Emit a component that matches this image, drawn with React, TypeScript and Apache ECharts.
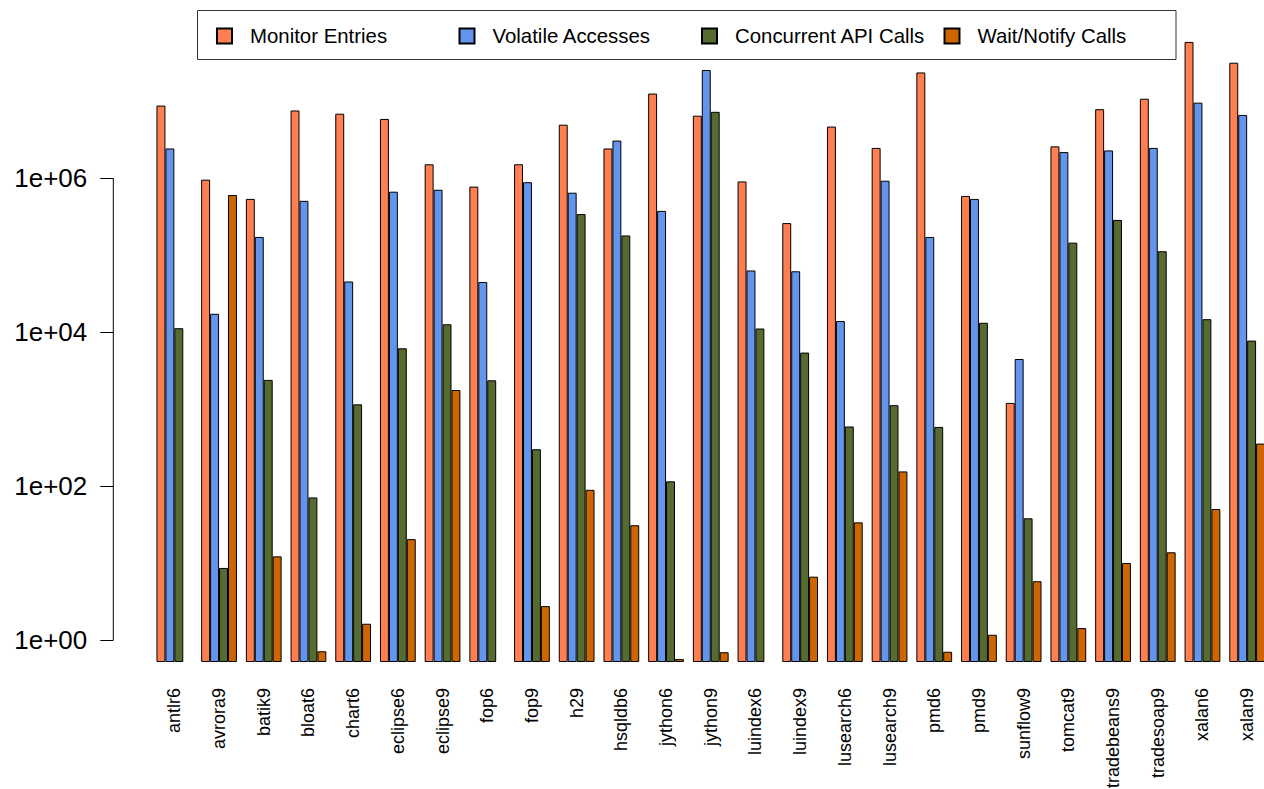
import React, { useEffect, useRef } from "react";
import * as echarts from "echarts";

// Benchmarks (DaCapo) and the synchronization counts measured for each
const benchmarks = [
  "antlr6", "avrora9", "batik9", "bloat6", "chart6", "eclipse6", "eclipse9",
  "fop6", "fop9", "h29", "hsqldb6", "jython6", "jython9", "luindex6",
  "luindex9", "lusearch6", "lusearch9", "pmd6", "pmd9", "sunflow9",
  "tomcat9", "tradebeans9", "tradesoap9", "xalan6", "xalan9",
];

const monitorEntries = [
  8.8e6, 9.6e5, 5.4e5, 7.6e6, 6.9e6, 5.9e6, 1.52e6, 7.8e5, 1.52e6, 4.97e6,
  2.44e6, 1.26e7, 6.5e6, 9.1e5, 2.62e5, 4.7e6, 2.48e6, 2.37e7, 5.9e5, 1.21e3,
  2.6e6, 7.9e6, 1.08e7, 5.9e7, 3.17e7,
];

const volatileAccesses = [
  2.44e6, 1.74e4, 1.73e5, 5.1e5, 4.57e4, 6.7e5, 7.1e5, 4.5e4, 8.9e5, 6.5e5,
  3.09e6, 3.77e5, 2.55e7, 6.35e4, 6.2e4, 1.4e4, 9.3e5, 1.73e5, 5.4e5, 4.5e3,
  2.19e6, 2.3e6, 2.48e6, 9.6e6, 6.65e6,
];

const concurrentApiCalls = [
  1.13e4, 8.7, 2.41e3, 71.6, 1.16e3, 6.2e3, 1.27e4, 2.38e3, 303, 3.43e5,
  1.81e5, 116, 7.3e6, 1.12e4, 5.45e3, 598, 1.13e3, 590, 1.33e4, 38.4,
  1.46e5, 2.88e5, 1.13e5, 1.48e4, 7.8e3,
];

const waitNotifyCalls = [
  null, 6.07e5, 12.3, 0.72, 1.64, 20.6, 1.78e3, null, 2.78, 90,
  31.2, 0.57, 0.7, null, 6.7, 34, 156, 0.71, 1.18, 5.85,
  1.44, 10.1, 13.9, 50.7, 359,
];

const seriesNames = [
  "Monitor Entries",
  "Volatile Accesses",
  "Concurrent API Calls",
  "Wait/Notify Calls",
];
const seriesColors = ["#FF7F50", "#6495ED", "#556B2F", "#CD6600"];
const seriesData = [monitorEntries, volatileAccesses, concurrentApiCalls, waitNotifyCalls];

// y axis ticks (log scale)
const yTickValues = [1, 100, 1e4, 1e6];
const yMin = 0.5225;
const yMax = 1e8;

const FONT = "'Liberation Sans', Arial, Helvetica, sans-serif";

// left edge of each legend entry
const legendLefts = [216, 458.5, 701, 943.5];

function formatExp(v: number): string {
  const e = Math.round(Math.log10(v));
  const s = Math.abs(e) < 10 ? "0" + Math.abs(e) : String(Math.abs(e));
  return "1e" + (e < 0 ? "-" : "+") + s;
}

export default function App() {
  const ref = useRef<HTMLDivElement | null>(null);

  useEffect(() => {
    document.body.style.margin = "0";
    if (!ref.current) return;
    const chart = echarts.init(ref.current, null, { renderer: "svg" });

    const gridLeft = 152;
    const axisX = 113.3;

    const legendBox = {
      id: "legendBox",
      type: "rect",
      shape: { x: 197.5, y: 10.5, width: 978.5, height: 49 },
      style: { fill: "none", stroke: "#333", lineWidth: 1 },
      z: 10,
    };

    const option: any = {
      animation: false,
      backgroundColor: "#ffffff",
      textStyle: { fontFamily: FONT },
      grid: {
        left: gridLeft,
        top: 24.3,
        width: 1117.5,
        height: 637.7,
        containLabel: false,
        outerBoundsMode: "none",
      },
      legend: seriesNames.map((name, i) => ({
        data: [name],
        left: legendLefts[i],
        top: 26,
        padding: 0,
        itemWidth: 15,
        itemHeight: 15,
        icon: "rect",
        selectedMode: false,
        textStyle: {
          fontFamily: FONT,
          fontSize: 20.4,
          color: "#000",
          padding: [0, 0, 0, 13],
          lineHeight: 18,
        },
      })),
      xAxis: {
        type: "category",
        data: benchmarks,
        axisLine: { show: false },
        axisTick: { show: false },
        splitLine: { show: false },
        axisLabel: {
          interval: 0,
          rotate: 90,
          margin: 26,
          fontSize: 18,
          fontFamily: FONT,
          color: "#000",
          padding: [6, 0, 0, 0],
        },
      },
      yAxis: {
        type: "log",
        logBase: 10,
        min: yMin,
        max: yMax,
        startValue: yMin,
        position: "left",
        offset: gridLeft - axisX,
        splitLine: { show: false },
        axisLine: { show: false },
        axisTick: {
          show: true,
          length: 13,
          customValues: yTickValues,
          lineStyle: { color: "#000", width: 1 },
        },
        axisLabel: {
          customValues: yTickValues,
          margin: 26,
          fontSize: 26,
          fontFamily: FONT,
          color: "#000",
          formatter: (v: number) => formatExp(v),
        },
      },
      series: seriesNames.map((name, i) => ({
        name,
        type: "bar",
        data: seriesData[i].map((v) => (v == null ? "-" : v)),
        barGap: "0%",
        barCategoryGap: "20%",
        itemStyle: {
          color: seriesColors[i],
          borderColor: "#000",
          borderWidth: 1,
        },
      })),
      graphic: [legendBox],
    };

    chart.setOption(option);

    // vertical axis line spanning the first to the last tick
    const yLow = chart.convertToPixel({ yAxisIndex: 0 }, yTickValues[0]) as number;
    const yHigh = chart.convertToPixel(
      { yAxisIndex: 0 },
      yTickValues[yTickValues.length - 1]
    ) as number;
    chart.setOption({
      graphic: [
        legendBox,
        {
          id: "yAxisLine",
          type: "line",
          shape: { x1: axisX, y1: yLow, x2: axisX, y2: yHigh },
          style: { stroke: "#000", lineWidth: 1 },
          z: 10,
        },
      ],
    });

    return () => {
      chart.dispose();
    };
  }, []);

  return (
    <div
      ref={ref}
      style={{ position: "absolute", left: 0, top: 0, width: 1264, height: 789 }}
    />
  );
}
